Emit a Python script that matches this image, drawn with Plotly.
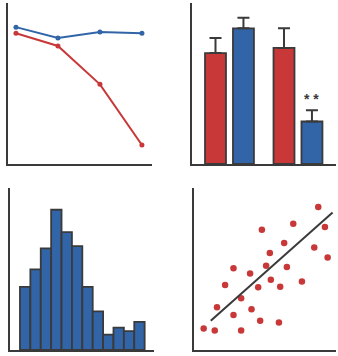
import plotly.graph_objects as go

# ---- data ----
line_x = [0, 1, 2, 3]
line_blue = [85.0, 78.3, 82.0, 81.2]
line_red = [81.2, 73.3, 49.5, 11.8]

bar_groups = [0, 1]
bar_red = [68.9, 72.1]
bar_red_err = [9.3, 12.2]
bar_blue = [84.3, 26.4]
bar_blue_err = [6.6, 7.0]
sig_label = "<b>* *</b>"

hist_bins = list(range(12))
hist_counts = [9.0, 11.5, 14.5, 20.0, 16.8, 14.8, 9.0, 5.5, 2.2, 3.2, 2.7, 4.0]

scatter_x = [87.5, 69.9, 92.2, 47.8, 63.5, 84.7, 53.4, 94.1, 27.8, 50.8, 65.4, 39.5, 21.9,
             54.1, 45.2, 60.7, 76.0, 33.2, 16.2, 40.5, 27.8, 46.6, 59.8, 6.8, 14.6, 33.2]
scatter_y = [88.2, 77.9, 75.9, 74.2, 66.0, 63.3, 59.8, 57.1, 50.5, 52.0, 51.3, 47.2, 40.2,
             43.3, 38.8, 39.0, 42.3, 32.0, 26.4, 25.2, 21.6, 18.1, 16.9, 13.2, 12.0, 12.0]
trend_x = [11.8, 97.6]
trend_y = [18.1, 84.9]

RED = "#C83838"
BLUE = "#3165A8"
DARK = "#3A3A3A"
W, H = 338, 356


def px_x(a, b):
    return [a / W, b / W]


def px_y(top, bottom):
    return [1 - bottom / H, 1 - top / H]


fig = go.Figure()

# Panel 1: lines
fig.add_trace(go.Scatter(x=line_x, y=line_blue, mode="lines+markers",
                         line=dict(color=BLUE, width=2), marker=dict(size=5, color=BLUE),
                         xaxis="x", yaxis="y"))
fig.add_trace(go.Scatter(x=line_x, y=line_red, mode="lines+markers",
                         line=dict(color=RED, width=2), marker=dict(size=5, color=RED),
                         xaxis="x", yaxis="y"))

# Panel 2: grouped bars
fig.add_trace(go.Bar(x=bar_groups, y=bar_red, marker=dict(color=RED, line=dict(color=DARK, width=1.8)),
                     error_y=dict(type="data", array=bar_red_err, arrayminus=[0, 0], symmetric=False,
                                  color=DARK, thickness=2, width=6),
                     xaxis="x2", yaxis="y2"))
fig.add_trace(go.Bar(x=bar_groups, y=bar_blue, marker=dict(color=BLUE, line=dict(color=DARK, width=1.8)),
                     error_y=dict(type="data", array=bar_blue_err, arrayminus=[0, 0], symmetric=False,
                                  color=DARK, thickness=2, width=6),
                     xaxis="x2", yaxis="y2"))

# Panel 3: histogram
fig.add_trace(go.Bar(x=hist_bins, y=hist_counts, width=1,
                     marker=dict(color=BLUE, line=dict(color=DARK, width=1.8)),
                     xaxis="x3", yaxis="y3"))

# Panel 4: scatter + trend
fig.add_trace(go.Scatter(x=scatter_x, y=scatter_y, mode="markers",
                         marker=dict(size=6.5, color=RED), xaxis="x4", yaxis="y4"))
fig.add_trace(go.Scatter(x=trend_x, y=trend_y, mode="lines",
                         line=dict(color=DARK, width=2), xaxis="x4", yaxis="y4"))

ax_common = dict(showgrid=False, zeroline=False, showticklabels=False, ticks="",
                 showline=True, linecolor=DARK, linewidth=2)

fig.update_layout(
    width=W, height=H, margin=dict(l=0, r=0, t=0, b=0),
    paper_bgcolor="white", plot_bgcolor="white", showlegend=False,
    barmode="group", bargap=0.184, bargroupgap=0.25,
    xaxis=dict(domain=px_x(8, 152), range=[-0.19, 3.24], anchor="y", **ax_common),
    yaxis=dict(domain=px_y(3, 164), range=[0, 100], anchor="x", **ax_common),
    xaxis2=dict(domain=px_x(192, 336), range=[-0.547, 1.555], anchor="y2", **ax_common),
    yaxis2=dict(domain=px_y(3, 164), range=[0, 100], anchor="x2", **ax_common),
    xaxis3=dict(domain=px_x(10, 154), range=[-1.46, 12.4], anchor="y3", **ax_common),
    yaxis3=dict(domain=px_y(188, 350), range=[0, 23.1], anchor="x3", **ax_common),
    xaxis4=dict(domain=px_x(194, 336), range=[0, 100], anchor="y4", **ax_common),
    yaxis4=dict(domain=px_y(188, 350), range=[0, 100], anchor="x4", **ax_common),
)

fig.add_annotation(x=bar_groups[1] + 0.197, y=bar_blue[1] + bar_blue_err[1] + 0.5,
                   xref="x2", yref="y2", text=sig_label, showarrow=False,
                   yanchor="bottom", font=dict(size=14, color=DARK, family="Arial"))

fig.write_html("out.html", config={"displayModeBar": False},
               post_script="document.body.style.margin='0';")
